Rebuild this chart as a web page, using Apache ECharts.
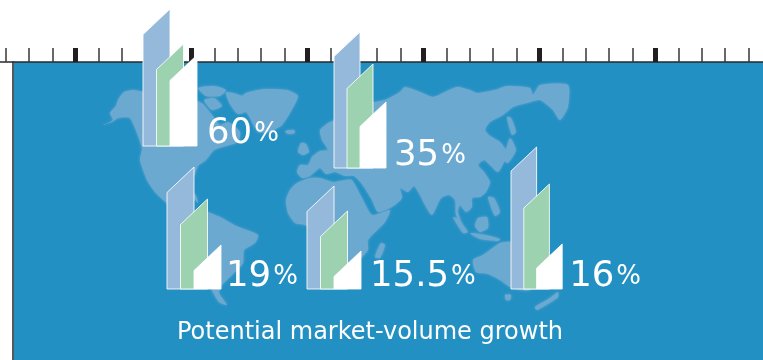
<!DOCTYPE html>
<html>
<head>
<meta charset="utf-8">
<style>html,body{margin:0;padding:0;background:#fff}#chart{width:763px;height:360px}</style>
<script src="https://cdn.jsdelivr.net/npm/echarts@6/dist/echarts.min.js"></script>
</head>
<body>
<div id="chart"></div>
<script>
// Growth figures per region
const growthLabels = ['60', '35', '19', '15.5', '16'];
// Height of the three columns in each region's cluster
const columns = ['first', 'second', 'third'];
const region1Heights = [137, 102, 91];
const region2Heights = [136, 104, 66];
const region3Heights = [122, 90, 44];
const region4Heights = [103, 78, 38];
const region5Heights = [142, 105, 45];
const chartTitle = 'Potential market-volume growth';

const regionHeights = [region1Heights, region2Heights, region3Heights, region4Heights, region5Heights];
const columnColors = ['#95B9DB', '#9CD2AF', '#FFFFFF'];
const OCEAN = '#2390C3', LAND = '#6CA9D1', FONT = '"DejaVu Sans", "Noto Sans", sans-serif';
const SCALE_MAX = 145;

// Where each cluster stands on the plate: column-1 left edge, baseline, column pitch, label gap
const clusterPlacement = [
  { left: 143, base: 146, band: 13.5, gap: 10 },
  { left: 334, base: 168, band: 13, gap: 8 },
  { left: 167, base: 289, band: 13.5, gap: 5 },
  { left: 307, base: 289, band: 13.5, gap: 9 },
  { left: 511, base: 289, band: 12.8, gap: 7 }
];

// Rough outlines of the continents behind the clusters
const landShapes = [
  // North America
  [[103,125],[113,120],[110,113],[116,106],[118,100],[124,92],[133,90],[145,92],[175,92],[195,100],[203,104],[212,115],[220,125],[228,122],[240,132],[238,142],[226,146],[214,150],[206,160],[198,166],[194,176],[186,184],[196,196],[198,203],[193,198],[182,194],[176,198],[180,204],[190,212],[180,212],[168,204],[155,192],[147,180],[140,160],[142,148],[130,118],[118,118],[112,122]],
  // Arctic islands
  [[198,88],[214,86],[226,90],[220,96],[206,96]],
  [[226,92],[244,97],[248,110],[238,114],[230,104]],
  [[204,100],[214,98],[222,106],[212,110]],
  // Greenland
  [[240,100],[246,93],[265,89],[287,90],[298,96],[290,113],[281,126],[268,132],[258,132],[250,118]],
  // Iceland
  [[285,131],[294,130],[295,133],[288,134]],
  // Britain and Ireland
  [[301,143],[306,144],[309,152],[303,155],[298,152]],
  // South America
  [[190,212],[207,212],[222,218],[236,226],[258,235],[255,243],[244,250],[243,263],[232,275],[222,285],[219,293],[227,305],[219,302],[211,288],[208,270],[202,255],[190,240],[185,226]],
  // Eurasia
  [[297,172],[300,165],[308,165],[312,157],[320,151],[328,150],[322,140],[320,130],[330,122],[345,117],[360,105],[385,100],[400,92],[405,87],[420,92],[433,97],[445,92],[457,87],[470,90],[477,93],[495,90],[507,86],[530,88],[533,95],[540,85],[568,85],[568,107],[560,120],[553,110],[540,100],[527,103],[513,107],[503,115],[490,122],[485,130],[490,136],[500,142],[507,152],[505,160],[498,172],[490,165],[484,160],[478,165],[484,172],[490,182],[486,192],[480,197],[472,198],[472,207],[466,212],[460,205],[458,212],[463,227],[456,215],[455,200],[449,195],[441,198],[432,215],[425,205],[420,195],[414,186],[408,192],[400,188],[402,198],[392,207],[378,212],[372,200],[362,184],[354,176],[345,176],[335,172],[326,174],[320,168],[310,176],[302,178]],
  // Africa
  [[286,200],[290,190],[297,183],[310,178],[320,178],[333,182],[345,180],[352,180],[362,198],[372,215],[390,210],[385,222],[368,240],[368,250],[358,262],[352,280],[340,285],[330,285],[325,270],[322,250],[318,232],[305,225],[295,223],[288,213]],
  // Madagascar
  [[381,243],[385,245],[380,258],[375,257]],
  // Islands of the Far East
  [[507,117],[511,118],[516,132],[512,135]],
  [[510,138],[516,150],[508,163],[504,160]],
  [[488,197],[494,198],[500,212],[495,216]],
  [[453,217],[458,219],[468,232],[463,233]],
  [[470,233],[486,235],[500,239],[498,241],[480,239]],
  [[478,218],[487,217],[488,228],[480,232],[475,226]],
  // Australia
  [[473,260],[483,255],[490,250],[500,243],[512,242],[535,250],[545,270],[530,290],[512,288],[500,280],[488,274],[476,272]],
  [[505,295],[511,295],[510,300],[506,300]],
  // New Zealand
  [[535,307],[550,298],[558,292],[558,297],[548,304],[537,310]]
];

function drawCluster(idx) {
  const place = clusterPlacement[idx];
  return function (params, api) {
    const cat = api.value(0);
    const top = api.coord([cat, api.value(1)]);
    const base = api.coord([cat, 0]);
    const band = api.size([1, 0])[0];
    const xl = top[0] - band, xr = top[0] + band;
    const slant = 2 * band - 1.5;
    const children = [{
      type: 'polygon',
      shape: { points: [[xl, base[1]], [xl, top[1] + slant], [xr, top[1]], [xr, base[1]]] },
      style: {
        fill: columnColors[cat],
        stroke: 'rgba(255,255,255,0.85)',
        lineWidth: 1
      }
    }];
    if (cat === columns.length - 1) {
      children.push({
        type: 'text',
        style: {
          x: xr + place.gap,
          y: base[1] + 6,
          text: '{n|' + growthLabels[idx] + '}{p|%}',
          textVerticalAlign: 'bottom',
          rich: {
            n: { fontFamily: FONT, fontSize: 35.5, fontWeight: 400, fill: '#fff', color: '#fff' },
            p: { fontFamily: FONT, fontSize: 26, fontWeight: 400, fill: '#fff', color: '#fff', padding: [0, 0, 0, 2] }
          }
        }
      });
    }
    return { type: 'group', children };
  };
}

const hiddenAxis = { show: false };

const option = {
  animation: false,
  backgroundColor: '#fff',
  title: {
    text: chartTitle,
    left: 172, top: 316,
    textStyle: { color: '#fff', fontFamily: FONT, fontSize: 24, fontWeight: 400 },
    z: 5
  },
  grid: [
    // ruler along the top edge
    { left: -40.5, top: 62, width: 812, height: 298, outerBoundsMode: 'none' },
    // blue plate
    { left: 13, top: 62, right: 0, bottom: 0, show: true, backgroundColor: OCEAN, borderWidth: 0 }
  ].concat(clusterPlacement.map(p => ({
    left: p.left + p.band / 2,
    top: p.base - SCALE_MAX,
    width: p.band * columns.length,
    height: SCALE_MAX,
    outerBoundsMode: 'none'
  }))),
  xAxis: [
    {
      gridIndex: 0, type: 'value', position: 'top', min: 0, max: 812, interval: 116, z: 2,
      axisLine: { show: true, onZero: false, lineStyle: { color: '#2b2728', width: 1.5 } },
      axisTick: { show: true, length: 14, lineStyle: { color: '#231F20', width: 5 } },
      minorTick: { show: true, splitNumber: 5, length: 14, lineStyle: { color: '#3a3637', width: 1.5 } },
      axisLabel: { show: false }, splitLine: { show: false }
    },
    { gridIndex: 1, ...hiddenAxis, type: 'value' }
  ].concat(clusterPlacement.map((p, i) => ({ gridIndex: i + 2, type: 'category', data: columns, show: false }))),
  yAxis: [
    { gridIndex: 0, ...hiddenAxis, type: 'value' },
    {
      gridIndex: 1, type: 'value', position: 'left',
      axisLine: { show: true, onZero: false, lineStyle: { color: '#55585c', width: 2 } },
      axisTick: { show: false }, axisLabel: { show: false }, splitLine: { show: false }
    }
  ].concat(clusterPlacement.map((p, i) => ({ gridIndex: i + 2, type: 'value', min: 0, max: SCALE_MAX, show: false }))),
  graphic: landShapes.map(points => ({
    type: 'polygon',
    z: 1,
    silent: true,
    shape: { points, smooth: 0.2 },
    style: { fill: LAND, shadowBlur: 3, shadowColor: LAND }
  })),
  series: regionHeights.map((heights, i) => ({
    type: 'custom',
    xAxisIndex: i + 2,
    yAxisIndex: i + 2,
    z: 3,
    clip: false,
    silent: true,
    encode: { x: 0, y: 1 },
    data: heights.map((h, k) => [k, h]),
    renderItem: drawCluster(i)
  }))
};

const chart = echarts.init(document.getElementById('chart'), null, { renderer: 'canvas' });
chart.setOption(option);
</script>
</body>
</html>
